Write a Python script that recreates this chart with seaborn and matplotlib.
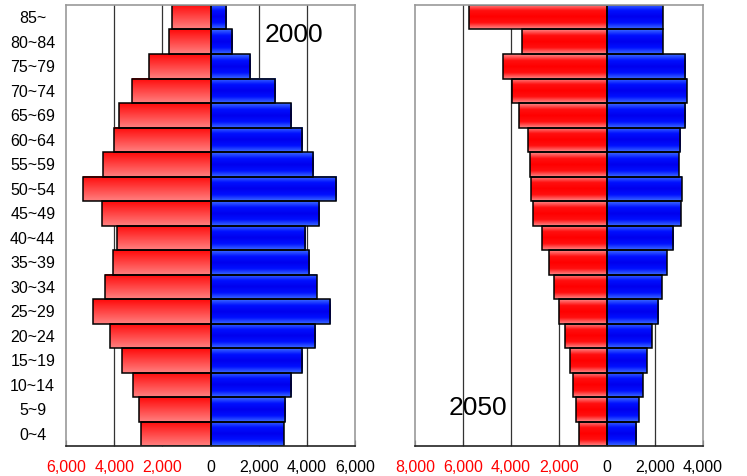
import numpy as np
import pandas as pd
import seaborn as sns
import matplotlib.pyplot as plt
from matplotlib.colors import LinearSegmentedColormap
from matplotlib.transforms import ScaledTranslation

# age groups, top to bottom
ages = ['85~', '80~84', '75~79', '70~74', '65~69', '60~64', '55~59', '50~54', '45~49',
        '40~44', '35~39', '30~34', '25~29', '20~24', '15~19', '10~14', '5~9', '0~4']

# 2000 (thousands)
female_2000 = [1600, 1720, 2540, 3260, 3790, 4000, 4470, 5290, 4490,
               3900, 4070, 4380, 4900, 4170, 3680, 3220, 2970, 2900]
male_2000 = [625, 890, 1625, 2680, 3360, 3780, 4260, 5210, 4490,
             3930, 4100, 4400, 4950, 4330, 3800, 3360, 3100, 3030]

# 2050 (thousands)
female_2050 = [5760, 3530, 4350, 3960, 3650, 3290, 3190, 3180, 3080,
               2710, 2400, 2200, 1990, 1730, 1525, 1420, 1275, 1170]
male_2050 = [2330, 2330, 3270, 3330, 3270, 3060, 3000, 3110, 3070,
             2760, 2490, 2280, 2140, 1860, 1650, 1500, 1330, 1225]

sns.set_style('white')
plt.rcParams['font.family'] = ['Liberation Sans', 'DejaVu Sans']
plt.rcParams['text.color'] = 'black'
plt.rcParams['xtick.color'] = 'black'
plt.rcParams['ytick.color'] = 'black'

red_fade = LinearSegmentedColormap.from_list('rf', ['#ff0a0a', '#ff8080'])
red_band = LinearSegmentedColormap.from_list('rb', ['#ff8a8a', '#ff1010', '#ff0000', '#ff1010', '#ff8a8a'])
blue_band = LinearSegmentedColormap.from_list('bb', ['#3c6cff', '#0010ff', '#0000ee', '#0010ff', '#3c6cff'])


def shade_bars(ax, patches, cmap):
    grad = np.linspace(0, 1, 64).reshape(-1, 1)
    for p in patches:
        x0, y0 = p.get_x(), p.get_y()
        w, h = p.get_width(), p.get_height()
        ax.imshow(grad, cmap=cmap, aspect='auto', origin='upper',
                  extent=(x0, x0 + w, y0 + h, y0), zorder=1.5, interpolation='bilinear')
        p.set_facecolor('none')
        p.set_zorder(2)


def pyramid(ax, female, male, xlim, ticks, female_cmap, year, text_pos):
    df = pd.DataFrame({'age': ages, 'female': [-v for v in female], 'male': male})
    sns.barplot(data=df, x='female', y='age', orient='h', ax=ax, width=1,
                edgecolor='black', linewidth=1.1, color='red')
    n = len(ax.patches)
    shade_bars(ax, ax.patches[:n], female_cmap)
    sns.barplot(data=df, x='male', y='age', orient='h', ax=ax, width=1,
                edgecolor='black', linewidth=1.1, color='blue')
    shade_bars(ax, ax.patches[n:], blue_band)

    ax.set_xlim(*xlim)
    ax.set_ylim(len(ages) - 0.5, -0.5)
    for t in ticks:
        if t not in (0, xlim[0], xlim[1]):
            ax.axvline(t, color='#333333', lw=0.9, zorder=0.5)
    ax.set_xticks(ticks)
    ax.set_xticklabels([f'{abs(t):,}' for t in ticks], fontsize=11.5)
    for t, lab in zip(ticks, ax.get_xticklabels()):
        lab.set_color('red' if t < 0 else 'black')
        dx = 2 if t == 0 else 5
        lab.set_transform(lab.get_transform() + ScaledTranslation(dx / 72, 0, ax.figure.dpi_scale_trans))
    ax.tick_params(axis='x', direction='in', length=4, width=0.8, color='#333333', pad=10, bottom=True)
    ax.set_xlabel('')
    ax.set_ylabel('')
    for s in ['left', 'right', 'top']:
        ax.spines[s].set_color('#999999')
        ax.spines[s].set_linewidth(1.2)
    ax.spines['bottom'].set_color('#222222')
    ax.spines['bottom'].set_linewidth(1.2)
    ax.text(text_pos[0], text_pos[1], year, transform=ax.transAxes, fontsize=19,
            ha='center', va='center', color='black', zorder=3)


fig = plt.figure(figsize=(7.47, 4.76), dpi=100)
ax1 = fig.add_axes([0.0884, 0.063, 0.3869, 0.9265])
ax2 = fig.add_axes([0.5556, 0.063, 0.3855, 0.9265])

pyramid(ax1, female_2000, male_2000, (-6000, 6000),
        [-6000, -4000, -2000, 0, 2000, 4000, 6000], red_fade, '2000', (0.79, 0.932))
pyramid(ax2, female_2050, male_2050, (-8000, 4000),
        [-8000, -6000, -4000, -2000, 0, 2000, 4000], red_band, '2050', (0.217, 0.086))

ax1.tick_params(axis='y', length=0, pad=24, labelsize=11.5, labelcolor='black')
for lab in ax1.get_yticklabels():
    lab.set_horizontalalignment('center')
ax2.set_yticks([])

fig.savefig('out.png', dpi=100)
